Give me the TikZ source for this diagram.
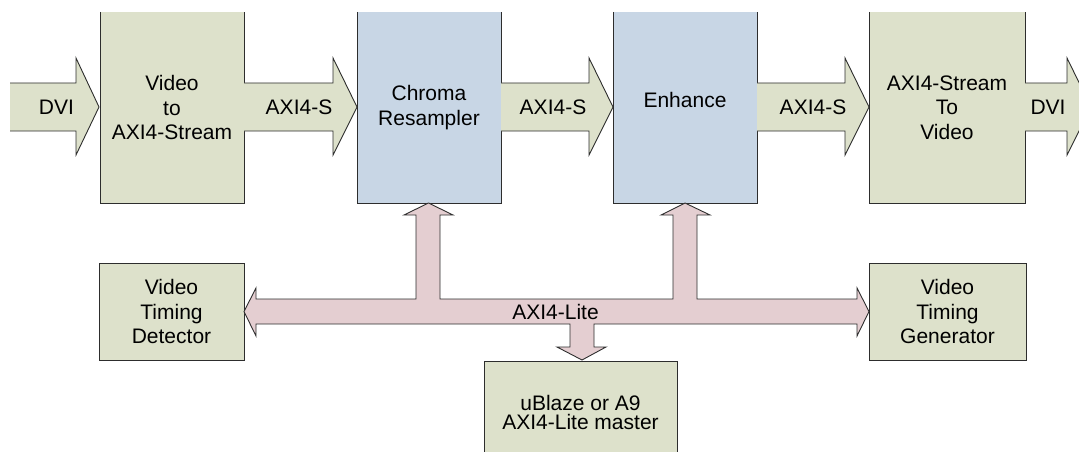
\documentclass[tikz,border=0pt]{standalone}
\usepackage{fontspec}
\setmainfont{Liberation Sans}
\definecolor{grn}{RGB}{221,225,203}
\definecolor{blu}{RGB}{200,214,229}
\definecolor{pnk}{RGB}{228,206,209}
\definecolor{edgec}{RGB}{45,45,45}
\begin{document}
\begin{tikzpicture}[x=1pt,y=-1pt,
  lbl/.style={font=\fontsize{21}{24.5}\selectfont, align=center, inner sep=0pt, outer sep=0pt},
  blk/.style={lbl, minimum width=#1, minimum height=191},
  sblk/.style={lbl, minimum width=#1, minimum height=97},
  edge/.style={draw=edgec, line width=0.9pt, line join=miter},
  garrow/.style={fill=grn},
  bus/.style={fill=pnk, draw=edgec, line width=0.9pt, line join=miter}]
\useasboundingbox (0,0) rectangle (1079,452);
\clip (0,0) rectangle (1079,452);
% top row boxes (open at top)
\node[blk=144, fill=grn] (v2a) at (172,107.5) {Video\\to\\AXI4-Stream};
\node[blk=144, fill=blu] (chroma) at (429,107.5) {Chroma\\Resampler};
\node[blk=144, fill=blu] (enh) at (685,107.5) {};
\node[lbl] (enhtxt) at (685,100) {Enhance};
\node[blk=156, fill=grn] (a2v) at (947,107.5) {AXI4-Stream\\To\\Video};
\foreach \b in {v2a,chroma,enh,a2v}
  \draw[edge] (\b.north west) -- (\b.south west) -- (\b.south east) -- (\b.north east);
% bottom boxes
\node[sblk=145, fill=grn, edge] (vtd) at (171.5,311.5) {Video\\Timing\\Detector};
\node[sblk=157, fill=grn, edge] (vtg) at (947.5,311.5) {Video\\Timing\\Generator};
\node[lbl, minimum width=193, minimum height=120, fill=grn] (ub) at (580.5,421) {};
\draw[edge] (ub.south west) -- (ub.north west) -- (ub.north east) -- (ub.south east);
\node[lbl, font=\fontsize{21}{19}\selectfont] (ubtxt) at (580.5,412) {uBlaze or A9\\AXI4-Lite master};
% stream arrows
\foreach \xa/\xb/\xc in {10/76/99, 244/333/357, 501/589/613, 757/845/869, 1025/1067/1091}{
  \fill[grn] (\xa,83) -- (\xb,83) -- (\xb,58) -- (\xc,107) -- (\xb,155) -- (\xb,131) -- (\xa,131) -- cycle;
  \draw[edge] (\xa,83) -- (\xb,83) -- (\xb,58) -- (\xc,107) -- (\xb,155) -- (\xb,131) -- (\xa,131);
}
\node[lbl] (dviin) at (56.5,107) {DVI};
\node[lbl] (s1) at (299,107) {AXI4-S};
\node[lbl] (s2) at (553,107) {AXI4-S};
\node[lbl] (s3) at (813,107) {AXI4-S};
\node[lbl] (dviout) at (1048,107) {DVI};
% AXI4-Lite bus
\draw[bus] (244,311.5) -- (256,288) -- (256,299) -- (416,299) -- (416,215) -- (404,215) -- (428.5,203) -- (453,215) -- (440,215) -- (440,299)
  -- (673,299) -- (673,215) -- (661,215) -- (685,203) -- (710,215) -- (697,215) -- (697,299)
  -- (857,299) -- (857,288) -- (869,311.5) -- (857,336) -- (857,324)
  -- (594,324) -- (594,347) -- (606,347) -- (582,360) -- (557,347) -- (570,347) -- (570,324)
  -- (256,324) -- (256,336) -- cycle;
\node[lbl] (axil) at (555.5,312) {AXI4-Lite};
\end{tikzpicture}
\end{document}
